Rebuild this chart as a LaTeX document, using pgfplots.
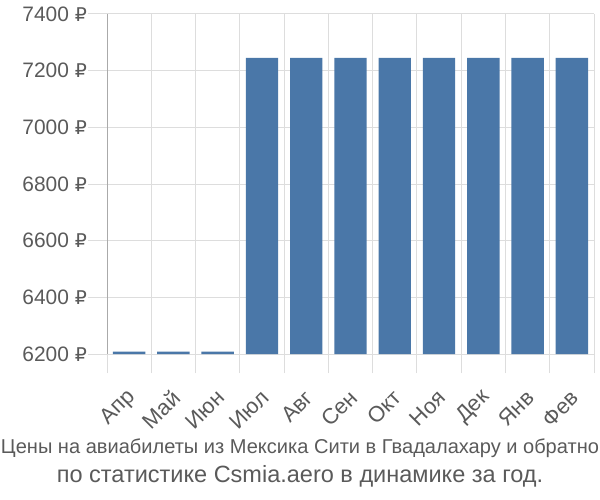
\documentclass[border=0pt]{standalone}
\usepackage{fontspec}
\setmainfont{Liberation Sans}
\newfontfamily\rubfont{DejaVu Sans}
\usepackage{pgfplots}
\pgfplotsset{compat=1.18}
\definecolor{barblue}{HTML}{4A77A8}
\definecolor{gridgray}{HTML}{DDDDDD}
\definecolor{axisgray}{HTML}{AAAAAA}
\definecolor{txtgray}{HTML}{5A5A5A}
\begin{document}
\begin{tikzpicture}
\useasboundingbox (-107bp,-146bp) rectangle (493bp,354bp);
\begin{axis}[
  at={(0,0)}, anchor=south west,
  scale only axis, width=487bp, height=340bp,
  xmin=-0.5, xmax=10.5, ymin=6200, ymax=7400,
  ybar, bar width=32.4bp, bar shift=0pt,
  axis x line*=bottom, axis y line*=left,
  x axis line style={draw=none},
  y axis line style={draw=axisgray, line width=1pt},
  xtick={0,...,10},
  xticklabels={Апр,Май,Июн,Июл,Авг,Сен,Окт,Ноя,Дек,Янв,Фев},
  minor xtick={-0.5,0.5,...,10.5},
  xminorgrids=true, ymajorgrids=true,
  grid style={draw=gridgray, line width=1pt},
  minor grid style={draw=gridgray, line width=1pt},
  major x tick style={draw=none},
  minor x tick style={draw=gridgray, line width=1pt},
  y tick style={draw=gridgray, line width=1pt},
  tick align=outside,
  major tick length=19bp, minor tick length=19bp,
  ytick={6200,6400,...,7400},
  yticklabel={\pgfmathprintnumber{\tick}~{\rubfont\fontsize{19}{24}\selectfont ₽}},
  /pgf/number format/1000 sep={},
  /pgf/number format/assume math mode=true,
  yticklabel style={font=\fontsize{21}{24}\selectfont, text=txtgray, inner sep=1bp},
  xticklabel style={font=\fontsize{22}{24}\selectfont, text=txtgray, xshift=3bp, yshift=-21bp, rotate=45, anchor=east, inner sep=0pt},
  clip=false,
]
\addplot[fill=barblue, draw=none] coordinates {
(0,6208) (1,6208) (2,6208) (3,7245) (4,7245) (5,7245) (6,7245) (7,7245) (8,7245) (9,7245) (10,7245)};
\end{axis}
\node[anchor=base, text=txtgray, inner sep=0pt] at (193bp,-99bp) {\resizebox{598bp}{!}{\fontsize{22}{24}\selectfont Цены на авиабилеты из Мексика Сити в Гвадалахару и обратно}};
\node[anchor=base, text=txtgray, inner sep=0pt] at (193bp,-128bp) {\fontsize{23.6}{26}\selectfont по статистике Csmia.aero в динамике за год.};
\end{tikzpicture}
\end{document}
